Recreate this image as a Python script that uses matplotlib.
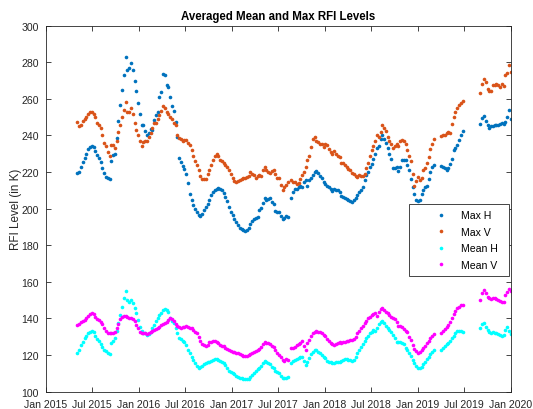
import numpy as np
import pandas as pd
import matplotlib
matplotlib.use("Agg")
import matplotlib.pyplot as plt
import matplotlib.dates as mdates

nan = np.nan

# weekly averages, first week 2015-05-05
max_h = [219.5, 220, 222.8, 225.5, 227.7, 230, 232.5, 233.7, 234.3, 233.5,
         231.6, 229.2, 227.5, 225.5, 222, 219.5, 217.4, 216.5, 216, 226,
         229.2, 230.1, 238.8, 248, 256.5, 265, 273, 282.9, 276, 277,
         279.6, 275.6, 269.6, 264.3, 258, 252, 246, 245.6, 242.5, 240,
         241.5, 243.7, 242.8, 248.7, 251, 252.8, 261, 263.8, 273.4, 273.2,
         267.4, 266.5, 261, 256, 253.4, 247.4, 239.2, 227.9, 225.5, 223.5,
         221.5, 219, 214, 208.3, 205, 202, 200, 198, 196.4, 196,
         197, 199.5, 201, 202.8, 204.6, 207.4, 209.2, 210, 211, 211.3,
         211, 210.1, 208.5, 206.5, 204, 201, 198.3, 196.4, 194.6, 193,
         191, 189.7, 188.8, 188.2, 188, 188.2, 189.5, 191.5, 193.5, 194.6,
         195, 195.2, 199.2, 200.5, 203, 206, 204.6, 205.5, 206, 203.7,
         202.4, 199, 198.3, 198.3, 196, 194.2, 195, 196, 195.2, nan,
         206, 209, 210.5, 211, 212, 212.3, 212, 214.6, 215.5, 212.3,
         215.5, 217, 218.3, 220, 220.8, 219.5, 217.7, 216.5, 214.8, 213.7,
         212.3, 212, 211, 209.7, 211, 210.4, 210, 209, 207, 206.5,
         206, 205.5, 205, 204.3, 203.5, 204.6, 205.9, 207.4, 209, 210.4,
         212, 215.5, 218.3, 220, 222.8, 224.6, 227.4, 230, 233, 234.5,
         238, 240, 238, 236, 233, 230, 227, 222, 222.4, 222.8,
         220.5, 222.8, 226.8, 226.8, 226.8, 224, 221, 216, 212, 208.3,
         205, 204.3, 204.5, 208, 210, 211.9, 212.5, 216, 220, 222.8,
         223.7, nan, nan, nan, 223.5, 223, 222, 221, 222.5, 224.6,
         227.4, 232, 233.2, 234.7, 237.4, 240, 242.5, nan, nan, nan,
         nan, nan, nan, nan, nan, nan, 246.5, 249.8, 250.5, 248,
         246, 244.3, 245, 245, 246, 245.9, 245.6, 246.1, 247, 246.5,
         247.4, 250, 254, 248.8]

max_v = [247.5, 245, 246, 248, 249, 250, 251.5, 253, 253, 252,
         250, 247, 246, 244, 240, 236, 234, 231, 229, 235,
         235, 233, 237, 242, 246, 250, 254, 258.5, 253, 253,
         255, 252, 247, 243, 240, 237, 234, 236.5, 237, 237,
         239, 241.5, 244, 247, 247, 249, 251, 253.5, 256, 255,
         253, 252, 250, 249, 247, 246, 240, 238.5, 238, 237,
         237.5, 237.5, 236, 234.6, 232, 228.6, 226, 223.7, 221, 218,
         216, 216, 216.4, 218.8, 221.4, 223.7, 226.8, 228.6, 230, 228.6,
         226.8, 226, 225, 223.7, 222.8, 221, 219, 217, 215.2, 214.6,
         215, 215.5, 216, 216.5, 217, 217.4, 217.7, 220, 219.2, 218.3,
         217, 217.7, 218.3, 217.7, 221, 222.8, 221, 220, 219.5, 220.6,
         221.4, 219, 217, 216.5, 212.8, 210, 212, 213, 214.6, nan,
         215.5, 214.6, 214.6, 213.7, 214, 216, 218.5, 220, 222.8, 226.5,
         229, 233.5, 238, 239.2, 237, 236.5, 235.6, 235.2, 233.7, 235.6,
         234.6, 232.8, 231, 230, 231.6, 230, 228.6, 228.3, 225, 225,
         223.7, 222.8, 221.9, 221, 219.5, 218.8, 217.7, 217.4, 218.3, 217.7,
         218, 219, 222, 225, 229, 232, 234.5, 237, 240, 239,
         242, 246, 244.3, 242.5, 239.2, 237, 235.2, 233.4, 234.1, 235.6,
         234.5, 237, 237.7, 237, 235.6, 232, 229, 226, 219, 212.5,
         215, 217.4, 215.5, 216.5, 221, 222, 225, 228, 232.5, 235.6,
         238.3, nan, nan, nan, 239.6, 240.1, 240.1, 241.4, 242, 241.6,
         246.5, 250, 252.9, 255.2, 256.5, 257.5, 258.9, nan, nan, nan,
         nan, nan, nan, nan, nan, nan, 263.2, 268.3, 271, 269.2,
         265.6, 264.5, 264.3, 267.4, 267.4, 268, 267.4, 266.5, 268, 267,
         273, 274, 278.5, 274.5]

mean_h = [121.1, 123, 125.5, 127.3, 129.2, 130.6, 131.9, 132.8, 133.2, 132.5,
          130.5, 128.8, 127.5, 126, 124.6, 123, 122, 121, 120.4, 126.4,
          127.7, 129.2, 133, 137.3, 141.9, 146.5, 151, 155, 150.1, 149.2,
          150.1, 148.3, 145.9, 142.8, 139.2, 135.5, 133, 132.2, 131.9, 131,
          131.3, 132.8, 134.6, 136.4, 138.6, 140.1, 141.9, 142.8, 144.6, 145.2,
          144.6, 143.5, 140.5, 138.6, 137.4, 134.6, 131.9, 129.2, 128.8, 127.7,
          127.3, 125.5, 123, 121, 119.1, 117.3, 115.5, 114.2, 113.1, 113.5,
          114, 115, 115.5, 116.1, 116.4, 116.8, 117.3, 117.7, 117.7, 117.3,
          116.8, 116.4, 115.5, 114.6, 113, 111.5, 110.6, 110.1, 109.5, 108.8,
          108.2, 107.7, 107.3, 107, 106.8, 106.8, 107, 107.8, 109.1, 110,
          111.3, 112.4, 113.1, 114.2, 115.5, 116.8, 116.4, 115.5, 115, 113.7,
          112.8, 111.3, 110.5, 110.1, 108.5, 107.5, 107.7, 107.3, 108.2, nan,
          115.5, 116.8, 117.5, 118, 118.3, 118.8, 119.2, 117, 114.5, 116.4,
          118.2, 120.4, 121.9, 122.8, 122.8, 121.9, 121, 120.1, 119.2, 118.2,
          117, 116.4, 116.1, 115.5, 115.5, 116, 116.4, 116.4, 116.8, 117.3,
          117.9, 117.9, 117.3, 117.3, 116.8, 117.5, 119, 121, 122.8, 124.6,
          125.9, 127.7, 129.2, 130.6, 131.9, 132.8, 133.7, 133.2, 135, 137,
          138, 138.6, 137.5, 136, 134.6, 133.7, 132.4, 131, 129.2, 127,
          127.3, 127, 126.8, 126, 124, 122.8, 121, 119.7, 117.3, 115.5,
          114, 113, 112.8, 113.5, 115, 116.5, 117.9, 119.2, 120.4, 121.5,
          122.8, nan, nan, nan, 122.8, 124.1, 125.2, 125.9, 126.4, 127.7,
          129.2, 130.5, 132, 133, 133.2, 133.2, 132.8, nan, nan, nan,
          nan, nan, nan, nan, nan, nan, 134.6, 136.8, 137.4, 135.5,
          133.7, 132.6, 132, 132.4, 131.9, 131.9, 131.3, 131, 130.6, 131,
          133.5, 135.3, 133, 131.5]

mean_v = [136.2, 137, 137.9, 138.6, 139.2, 140.4, 141.5, 142.3, 142.8, 142.5,
          141, 139.9, 139, 138, 136.8, 135, 133.3, 132, 131.9, 132.2,
          131.9, 132.8, 134.6, 136.8, 139.5, 140.6, 141.2, 141.3, 140.6, 140.4,
          140.2, 139.8, 138.5, 136.6, 134.8, 132.8, 131.9, 132.2, 131.9, 131.4,
          132.2, 132.8, 133.1, 133.6, 134.2, 134.6, 135.3, 136.4, 136.8, 137.4,
          138.3, 139.2, 140.2, 139.5, 138.8, 137, 135.8, 135.2, 135, 135.5,
          135.5, 136, 135.3, 134.6, 134.6, 133.5, 132.8, 131.9, 130, 127.5,
          126.2, 125.4, 125.2, 125.7, 127, 127.3, 127.7, 127.7, 127, 126.4,
          125.5, 125.2, 125, 124, 123.4, 122.9, 122.3, 121.9, 121.5, 121.1,
          121, 120.4, 120.1, 119.7, 119.7, 119.7, 120.1, 120.8, 121.2, 121.8,
          122.1, 122.7, 123.5, 124.4, 126, 127.3, 126.8, 126.4, 125.9, 125.2,
          124.2, 123, 121.3, 120.3, 118.8, 117.4, 116.9, 117.8, 117.3, nan,
          123.7, 124.1, 124.6, 125.7, 126.2, 126.8, 127.5, 125.2, 123, 126.4,
          128.5, 130.4, 131.9, 132.8, 133.2, 132.4, 132.8, 131.9, 131, 130.2,
          129, 127.7, 126.4, 126, 125.5, 125.9, 126.4, 127, 126.4, 127,
          127.3, 127.7, 127.7, 128.3, 128.5, 128.8, 130, 131.9, 133.2, 134.6,
          136.1, 137.4, 138.6, 140.1, 141, 141.9, 142.3, 142.8, 141.5, 143.5,
          145, 145.8, 144.6, 143.7, 142.8, 141.9, 141, 140.1, 139.7, 138.3,
          136.1, 135.8, 135.5, 134, 133, 132.8, 130, 128.3, 125.5, 123.5,
          122, 121.3, 121.5, 122.8, 124, 125, 126.4, 127.7, 129.2, 130.6,
          131.3, nan, nan, nan, 131.9, 133.2, 134.3, 135.5, 136.4, 138.3,
          140.4, 142.5, 144.2, 145.5, 146.5, 147.2, 147.4, nan, nan, nan,
          nan, nan, nan, nan, nan, nan, 150.1, 153.7, 155.5, 153.7,
          151.9, 151.2, 150.8, 151.4, 151, 150.6, 150.1, 149.5, 148.8, 149.2,
          153, 154.5, 155.9, 155]

series_names = ["Max H", "Max V", "Mean H", "Mean V"]
series_colors = ["#0072BD", "#D95319", "#00FFFF", "#FF00FF"]

dates = pd.date_range("2015-05-05", periods=len(max_h), freq="7D")

plt.rcParams["font.family"] = ["Liberation Sans", "DejaVu Sans"]
ink = "#262626"

fig = plt.figure(figsize=(5.33, 4.10), dpi=100)
ax = fig.add_axes([0.0861, 0.0422, 0.8726, 0.8927])

for vals, name, col in zip([max_h, max_v, mean_h, mean_v], series_names, series_colors):
    ax.plot(dates, vals, linestyle="none", marker="o", markersize=2.6,
            markeredgewidth=0, color=col, label=name)

ax.set_xlim(pd.Timestamp("2015-01-01"), pd.Timestamp("2020-01-01"))
ax.set_ylim(100, 300)
ax.set_yticks(np.arange(100, 301, 20))
ax.xaxis.set_major_locator(mdates.MonthLocator(bymonth=[1, 7]))
ax.xaxis.set_major_formatter(mdates.DateFormatter("%b %Y"))

for s in ax.spines.values():
    s.set_color(ink)
    s.set_linewidth(0.6)
ax.tick_params(direction="in", length=3.5, width=0.6, colors=ink,
               labelsize=7.6, pad=5, top=True, right=True)

ax.set_title("Averaged Mean and Max RFI Levels", fontsize=8.3,
             fontweight="bold", pad=5)
ax.set_ylabel("RFI Level (in K)", fontsize=8.4, color=ink, labelpad=-0.5)

leg = ax.legend(loc="upper left", bbox_to_anchor=(0.781, 0.311, 0.2147, 0.202),
                mode="expand", borderaxespad=0, fontsize=7.6, frameon=True,
                fancybox=False, edgecolor=ink, framealpha=1, numpoints=1,
                borderpad=0.6, labelspacing=0.62, handlelength=4.9,
                handletextpad=-0.6, markerscale=1.0)
leg.get_frame().set_linewidth(0.6)

fig.savefig("out.png", dpi=100)
